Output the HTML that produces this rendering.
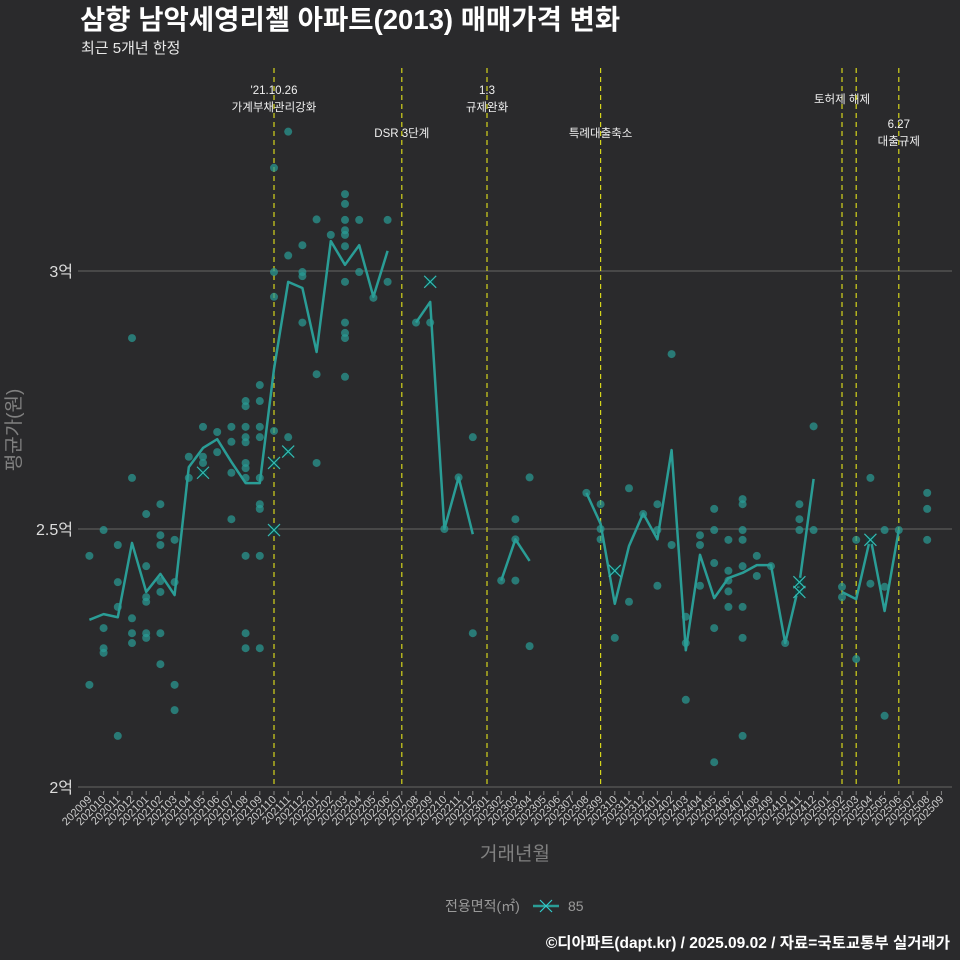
<!DOCTYPE html>
<html><head><meta charset="utf-8">
<style>
body{margin:0;background:#2a2a2c;}
svg{display:block;font-family:"Liberation Sans","Noto Sans CJK KR",sans-serif;}
</style></head>
<body>
<svg id="chart" width="960" height="960" viewBox="0 0 960 960">
<rect width="960" height="960" fill="#2a2a2c"/>
<text x="80" y="29" fill="#ffffff" font-size="27.5" font-weight="bold">삼향 남악세영리첼 아파트(2013) 매매가격 변화</text>
<text x="81" y="53" fill="#e8e8e8" font-size="15">최근 5개년 한정</text>
<g id="grid"></g>
<g id="events"></g>
<g id="points"></g>
<g id="line"></g>
<g id="xmarks"></g>
<g id="xaxis"></g>
<g id="yaxis"></g>
<text x="20" y="430" fill="#808080" font-size="19" text-anchor="middle" transform="rotate(-90 20 430)">평균가(원)</text>
<text x="515" y="860" fill="#808080" font-size="19" text-anchor="middle">거래년월</text>
<g>
<text x="445" y="911" fill="#9a9a9a" font-size="14">전용면적(㎡)</text>
<line x1="533" y1="906" x2="559" y2="906" stroke="#2a9d96" stroke-width="2.5"/>
<path d="M540 900 L552 912 M552 900 L540 912" stroke="#3cc" stroke-width="1.2"/>
<text x="568" y="911" fill="#9a9a9a" font-size="14">85</text>
</g>
<text x="950" y="948" fill="#ffffff" font-size="15.5" font-weight="bold" text-anchor="end">©디아파트(dapt.kr) / 2025.09.02 / 자료=국토교통부 실거래가</text>
</svg>
<script>
const monthLabels = (function(){const a=[];let y=2020,m=9;for(let i=0;i<61;i++){a.push(y+String(m).padStart(2,'0'));m++;if(m>12){m=1;y++;}}return a;})();
const yTickValues = [2, 2.5, 3];
const yTickLabels = ["2억", "2.5억", "3억"];
const lineValues = [2.324,2.335,2.329,2.473,2.378,2.413,2.372,2.62,2.657,2.674,2.63,2.589,2.589,2.81,2.979,2.967,2.843,3.058,3.012,3.05,2.95,3.039,null,2.9,2.94,2.5,2.6,2.49,null,2.4,2.48,2.438,null,null,null,2.57,2.51,2.355,2.467,2.53,2.48,2.653,2.265,2.45,2.366,2.405,2.415,2.43,2.43,2.279,2.395,2.597,null,2.378,2.364,2.484,2.341,2.498,null,null,null];
const pointsMonth = [0,0,1,1,1,1,2,2,2,2,3,3,3,3,3,4,4,4,4,4,4,5,5,5,5,5,5,5,6,6,6,6,7,7,8,8,8,9,9,10,10,10,10,11,11,11,11,11,11,11,11,11,11,11,12,12,12,12,12,12,12,12,12,13,13,13,13,14,14,14,15,15,15,15,16,16,16,17,18,18,18,18,18,18,18,18,18,18,18,19,19,20,21,21,23,24,25,26,27,27,29,30,30,30,31,31,35,36,36,36,37,38,38,39,40,40,40,41,41,42,42,42,43,43,43,44,44,44,44,44,45,45,45,45,45,46,46,46,46,46,46,46,46,47,47,48,49,50,50,50,51,51,53,53,54,54,55,55,56,56,56,57,59,59,59];
const pointsValue = [2.448,2.198,2.498,2.308,2.269,2.26,2.469,2.397,2.349,2.099,2.87,2.599,2.327,2.298,2.279,2.529,2.428,2.368,2.359,2.298,2.289,2.548,2.488,2.469,2.399,2.378,2.298,2.238,2.479,2.397,2.198,2.149,2.64,2.599,2.698,2.64,2.628,2.688,2.649,2.698,2.669,2.609,2.519,2.748,2.738,2.698,2.678,2.628,2.618,2.599,2.448,2.298,2.269,2.668,2.779,2.748,2.698,2.678,2.599,2.548,2.539,2.448,2.269,3.2,2.998,2.95,2.69,3.27,3.03,2.678,3.05,2.998,2.99,2.9,3.1,2.8,2.628,3.07,3.149,3.13,3.099,3.079,3.07,3.048,2.979,2.9,2.88,2.87,2.795,3.099,2.998,2.948,3.099,2.979,2.9,2.9,2.5,2.6,2.678,2.298,2.4,2.519,2.48,2.4,2.6,2.273,2.57,2.548,2.5,2.48,2.289,2.579,2.359,2.529,2.548,2.498,2.39,2.839,2.469,2.33,2.279,2.169,2.488,2.469,2.39,2.539,2.498,2.434,2.308,2.048,2.479,2.419,2.4,2.379,2.349,2.558,2.548,2.498,2.479,2.428,2.349,2.289,2.099,2.448,2.409,2.428,2.279,2.548,2.519,2.498,2.699,2.498,2.388,2.368,2.479,2.248,2.599,2.394,2.498,2.388,2.138,2.498,2.57,2.539,2.479];
const xMarkMonth = [8,13,13,14,24,37,50,50,55];
const xMarkValue = [2.609,2.628,2.498,2.65,2.979,2.419,2.397,2.378,2.479];
const eventMonth = [13,22,28,36,53,54,57];
const eventLabel1 = ["'21.10.26","","1.3","","","",""];
const eventLabel2 = ["가계부채관리강화","DSR 3단계","규제완화","특례대출축소","토허제 해제","","6.27"];
const eventLabel3 = ["","","","","","","대출규제"];
const eventTextTop = [90,133,90,133,99,99,124];

const NS="http://www.w3.org/2000/svg";
const X0=89.4, DX=14.2, Y0=787, PY=516;
function xs(i){return X0+i*DX;}
function ys(v){return Y0-(v-2)*PY;}
function mk(tag,attrs,parent){const e=document.createElementNS(NS,tag);for(const k in attrs)e.setAttribute(k,attrs[k]);parent.appendChild(e);return e;}

const grid=document.getElementById('grid'), yaxis=document.getElementById('yaxis');
yTickValues.forEach((v,i)=>{
  const g=mk('line',{x1:78,x2:952,y1:ys(v),y2:ys(v),stroke:'#5a5a5a','stroke-width':1.3},grid);
  
  
  const t=mk('text',{x:73,y:ys(v)+6,fill:'#dddddd','font-size':16,'text-anchor':'end'},yaxis);
  t.textContent=yTickLabels[i];
  
  
});
const xaxis=document.getElementById('xaxis');
monthLabels.forEach((m,i)=>{
  const x=xs(i);
  const tk=mk('line',{x1:x,x2:x,y1:791,y2:795,stroke:'#888','stroke-width':1},xaxis);
  
  
  const t=mk('text',{x:x+3,y:800,fill:'#cccccc','font-size':11,'text-anchor':'end',transform:`rotate(-45 ${x+3} 800)`},xaxis);
  t.textContent=m;
  
  
});
const ev=document.getElementById('events');
eventMonth.forEach((m,i)=>{
  const x=xs(m);
  const l=mk('line',{x1:x,x2:x,y1:68,y2:787,stroke:'#d4d41c','stroke-width':1.2,'stroke-dasharray':'5,4'},ev);
  
  
  const lines=[eventLabel1[i],eventLabel2[i],eventLabel3[i]].filter(s=>s);
  lines.forEach((s,j)=>{
    const t=mk('text',{x:x,y:eventTextTop[i]+4+j*17,fill:'#f0f0f0','font-size':11.5,'text-anchor':'middle'},ev);
    t.textContent=s;
    
    
  });
});
const pts=document.getElementById('points');
pointsMonth.forEach((m,i)=>{
  const c=mk('circle',{cx:xs(m),cy:ys(pointsValue[i]),r:4,fill:'#2a9d96','fill-opacity':0.7},pts);
  
  
});
const lg=document.getElementById('line');
let seg=[];
function flush(){if(seg.length>1){const p=mk('polyline',{points:seg.join(' '),fill:'none',stroke:'#2a9d96','stroke-width':2.5,'stroke-linejoin':'round'},lg);
  
  }seg=[];}
lineValues.forEach((v,i)=>{if(v===null){flush();}else seg.push(xs(i)+','+ys(v));});
flush();
const xm=document.getElementById('xmarks');
xMarkMonth.forEach((m,i)=>{
  const x=xs(m),y=ys(xMarkValue[i]);
  const g=mk('g',{},xm);
  
  
  mk('circle',{cx:x,cy:y,r:4.5,fill:'#0f3f3c'},g);
  mk('path',{d:`M${x-6} ${y-6}L${x+6} ${y+6}M${x+6} ${y-6}L${x-6} ${y+6}`,stroke:'#33bbb3','stroke-width':1.2},g);
});
</script>
</body></html>
